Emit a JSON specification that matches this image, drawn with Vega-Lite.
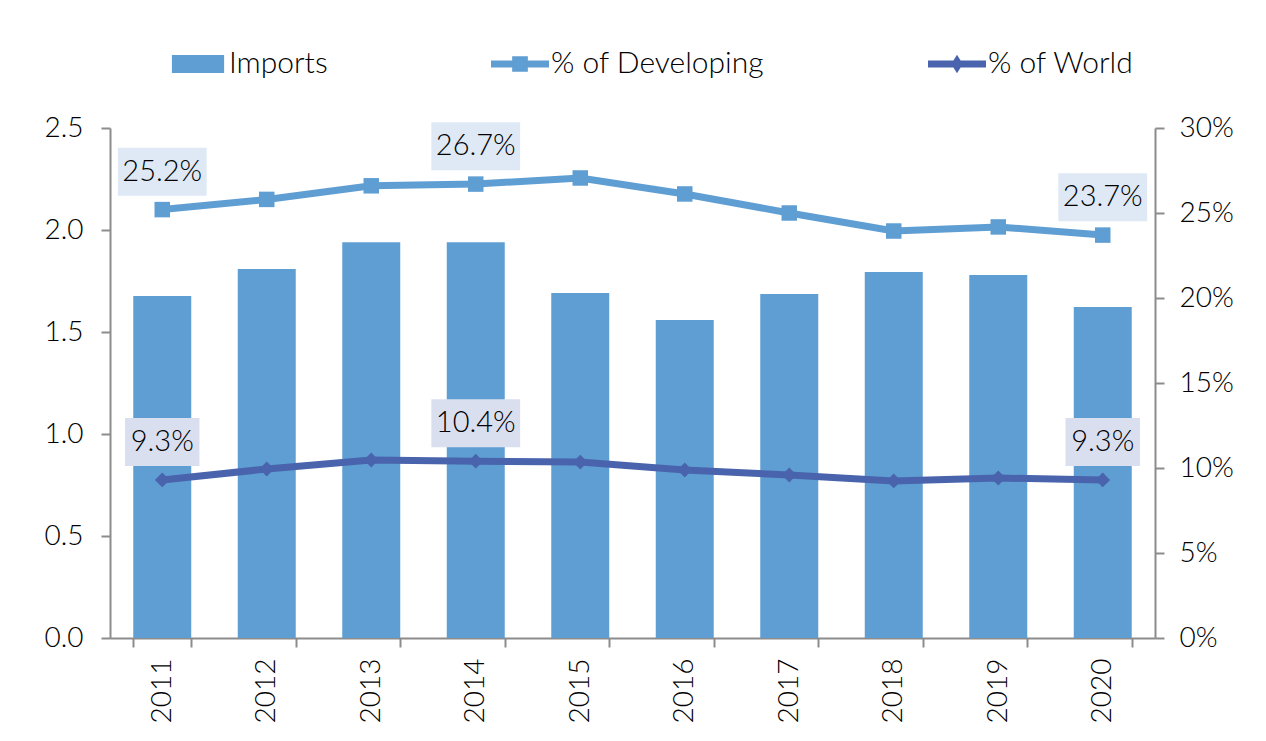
{
  "$schema": "https://vega.github.io/schema/vega-lite/v6.json",
  "width": 1045,
  "height": 510,
  "autosize": {"type": "none"},
  "padding": {"left": 110, "top": 128, "right": 111, "bottom": 103},
  "background": "#ffffff",
  "config": {
    "font": "Lato",
    "view": {"stroke": null},
    "axis": {
      "domainColor": "#8c8c8c",
      "tickColor": "#8c8c8c",
      "domainWidth": 2,
      "tickWidth": 2,
      "tickSize": 9,
      "labelFont": "Lato",
      "labelFontSize": 28,
      "labelFontWeight": 300,
      "labelColor": "#000000",
      "grid": false,
      "title": null
    }
  },
  "data": {
    "values": [
      {"year": "2011", "imports": 1.676, "dev": 0.252, "world": 0.093},
      {"year": "2012", "imports": 1.809, "dev": 0.258, "world": 0.0994},
      {"year": "2013", "imports": 1.94, "dev": 0.266, "world": 0.1047},
      {"year": "2014", "imports": 1.94, "dev": 0.267, "world": 0.104},
      {"year": "2015", "imports": 1.691, "dev": 0.2706, "world": 0.1035},
      {"year": "2016", "imports": 1.559, "dev": 0.2612, "world": 0.0988},
      {"year": "2017", "imports": 1.686, "dev": 0.25, "world": 0.0959},
      {"year": "2018", "imports": 1.794, "dev": 0.2394, "world": 0.0924},
      {"year": "2019", "imports": 1.779, "dev": 0.2418, "world": 0.0941},
      {"year": "2020", "imports": 1.623, "dev": 0.237, "world": 0.093}
    ]
  },
  "encoding": {
    "x": {
      "field": "year",
      "type": "ordinal",
      "scale": {"paddingInner": 0.445, "paddingOuter": 0.2225},
      "axis": {"labelAngle": -90, "tickBand": "extent", "labelPadding": 11, "labelBaseline": "middle"}
    }
  },
  "layer": [
    {
      "mark": {"type": "bar", "color": "#5F9ED3"},
      "encoding": {
        "y": {
          "field": "imports",
          "type": "quantitative",
          "scale": {"domain": [0, 2.5], "nice": false},
          "axis": {"orient": "left", "values": [0, 0.5, 1, 1.5, 2, 2.5], "format": ".1f", "labelPadding": 18}
        },
        "color": {
          "datum": "Imports",
          "type": "nominal",
          "scale": {"domain": ["Imports", "% of Developing", "% of World"], "range": ["#5F9ED3", "#5F9ED3", "#4964AD"]},
          "legend": {
            "title": null,
            "orient": "none",
            "legendX": 59,
            "legendY": -93,
            "direction": "horizontal",
            "symbolSize": 3364,
            "symbolStrokeWidth": 0,
            "labelFont": "Lato",
            "labelFontSize": 30,
            "labelFontWeight": 300,
            "labelColor": "#000000",
            "labelLimit": 0,
            "labelOffset": 2,
            "columnPadding": 163,
            "encode": {
              "symbols": {
                "update": {
                  "shape": {"signal": "datum.value === 'Imports' ? 'M-0.9,-0.31H0.9V0.31H-0.9Z' : (datum.value === '% of Developing' ? 'M-1,-0.12H1V0.12H-1Z M-0.27,-0.27H0.27V0.27H-0.27Z' : 'M-1,-0.12H1V0.12H-1Z M0,-0.32L0.2,0L0,0.32L-0.2,0Z')"},
                  "fill": {"signal": "scale('color', datum.value)"},
                  "fillOpacity": {"value": 1},
                  "opacity": {"value": 1},
                  "strokeWidth": {"value": 0}
                }
              }
            }
          }
        }
      }
    },
    {
      "layer": [
        {
          "mark": {"type": "line", "strokeWidth": 7},
          "encoding": {
            "y": {
              "field": "dev",
              "type": "quantitative",
              "scale": {"domain": [0, 0.3], "nice": false},
              "axis": {"orient": "right", "values": [0, 0.05, 0.1, 0.15, 0.2, 0.25, 0.3], "format": ".0%", "labelPadding": 15}
            },
            "color": {"datum": "% of Developing", "type": "nominal"}
          }
        },
        {
          "mark": {"type": "line", "strokeWidth": 7},
          "encoding": {
            "y": {"field": "world", "type": "quantitative"},
            "color": {"datum": "% of World", "type": "nominal"}
          }
        },
        {
          "mark": {"type": "point", "shape": "square", "filled": true, "size": 240, "opacity": 1, "color": "#5F9ED3"},
          "encoding": {"y": {"field": "dev", "type": "quantitative"}}
        },
        {
          "mark": {"type": "point", "shape": "diamond", "filled": true, "size": 220, "opacity": 1, "color": "#4964AD"},
          "encoding": {"y": {"field": "world", "type": "quantitative"}}
        },
        {
          "transform": [{"filter": {"field": "year", "oneOf": ["2011", "2014", "2020"]}}],
          "mark": {"type": "point", "filled": true, "size": 2304, "opacity": 1, "color": "#DEE9F5", "strokeWidth": 0, "shape": "M-1.85,-2.58H1.85V-0.58H-1.85Z"},
          "encoding": {"y": {"field": "dev", "type": "quantitative"}}
        },
        {
          "transform": [{"filter": {"field": "year", "oneOf": ["2011", "2014", "2020"]}}],
          "mark": {"type": "point", "filled": true, "size": 2304, "opacity": 1, "color": "#DADFF0", "strokeWidth": 0},
          "encoding": {
            "y": {"field": "world", "type": "quantitative"},
            "shape": {"condition": {"test": "datum.world >= 0.1", "value": "M-1.85,-2.58H1.85V-0.58H-1.85Z"}, "value": "M-1.55,-2.58H1.55V-0.58H-1.55Z"}
          }
        },
        {
          "transform": [{"filter": {"field": "year", "oneOf": ["2011", "2014", "2020"]}}],
          "mark": {"type": "text", "dy": -38, "fontSize": 29, "fontWeight": 300, "font": "Lato", "color": "#000000", "baseline": "middle", "align": "center"},
          "encoding": {"y": {"field": "dev", "type": "quantitative"}, "text": {"field": "dev", "type": "quantitative", "format": ".1%"}}
        },
        {
          "transform": [{"filter": {"field": "year", "oneOf": ["2011", "2014", "2020"]}}],
          "mark": {"type": "text", "dy": -38, "fontSize": 29, "fontWeight": 300, "font": "Lato", "color": "#000000", "baseline": "middle", "align": "center"},
          "encoding": {"y": {"field": "world", "type": "quantitative"}, "text": {"field": "world", "type": "quantitative", "format": ".1%"}}
        }
      ]
    }
  ],
  "resolve": {"scale": {"y": "independent"}}
}
